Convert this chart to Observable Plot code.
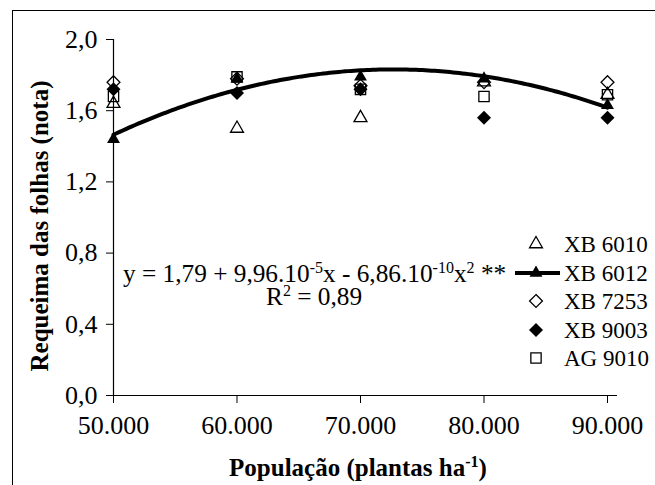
<!DOCTYPE html>
<html>
<head>
<meta charset="utf-8">
<script src="https://cdn.jsdelivr.net/npm/d3@7"></script>
<script src="https://cdn.jsdelivr.net/npm/@observablehq/plot@0.6"></script>
<style>
  html, body { margin: 0; padding: 0; background: #fff; overflow: hidden; }
  #wrap { position: relative; width: 655px; height: 485px; }
  #frame { position: absolute; left: 12px; top: 10px; width: 700px; height: 520px;
           border-left: 1.5px solid #000; border-top: 1.5px solid #000; }
  #wrap svg { position: absolute; left: 0; top: 0; }
</style>
</head>
<body>
<div id="wrap"><div id="frame"></div></div>
<script>
// ---- data ----
const populations = [50000, 60000, 70000, 80000, 90000];
const seriesNames = ["XB 6010", "XB 6012", "XB 7253", "XB 9003", "AG 9010"];
const xb6010 = [1.64, 1.50, 1.56, 1.76, 1.69];
const xb6012 = [1.44, 1.78, 1.79, 1.78, 1.63];
const xb7253 = [1.76, 1.78, 1.74, 1.76, 1.76];
const xb9003 = [1.72, 1.70, 1.72, 1.56, 1.56];
const ag9010 = [1.68, 1.79, 1.72, 1.68, 1.69];
const yTicks = [0, 0.4, 0.8, 1.2, 1.6, 2.0];
const xTicks = populations;
const equationText = {a: "1,79", b: "9,96.10", bExp: "-5", c: "6,86.10", cExp: "-10", sig: "**"};
const r2Text = "0,89";
const xTitle = "População (plantas ha";
const yTitle = "Requeima das folhas (nota)";

// ---- tidy tables ----
const valuesBySeries = [xb6010, xb6012, xb7253, xb9003, ag9010];
const table = seriesNames.map((s, i) => populations.map((x, j) => ({series: s, x, y: valuesBySeries[i][j]})));

// quadratic least-squares fit of XB 6012 (the fitted curve)
function quadFit(xs, ys) {
  const u = xs.map(x => (x - 70000) / 10000);
  const S = k => d3.sum(u, v => v ** k);
  const T = k => d3.sum(u, (v, i) => v ** k * ys[i]);
  const A = [[S(0), S(1), S(2)], [S(1), S(2), S(3)], [S(2), S(3), S(4)]];
  const B = [T(0), T(1), T(2)];
  const n = 3;
  for (let i = 0; i < n; i++) {
    for (let k = i + 1; k < n; k++) {
      const f = A[k][i] / A[i][i];
      for (let j = i; j < n; j++) A[k][j] -= f * A[i][j];
      B[k] -= f * B[i];
    }
  }
  const c = new Array(n).fill(0);
  for (let i = n - 1; i >= 0; i--) {
    let s = B[i];
    for (let j = i + 1; j < n; j++) s -= A[i][j] * c[j];
    c[i] = s / A[i][i];
  }
  return x => { const v = (x - 70000) / 10000; return c[0] + c[1] * v + c[2] * v * v; };
}
const fit = quadFit(populations, xb6012);
const curve = d3.range(populations[0], populations[populations.length - 1] + 1, 250).map(x => ({x, y: fit(x)}));

const fmtX = d => d3.format(",")(d).replace(/,/g, ".");
const fmtY = d => d.toFixed(1).replace(".", ",");

const symStyles = [
  {symbol: "triangle", r: 4.8, fill: "none", stroke: "#000"},
  {symbol: "triangle", r: 4.8, fill: "#000", stroke: "none"},
  {symbol: "diamond2", r: 5.8, fill: "none", stroke: "#000"},
  {symbol: "diamond2", r: 6.3, fill: "#000", stroke: "none"},
  {symbol: "square", r: 5.8, fill: "none", stroke: "#000"}
];

const font = "'Liberation Serif', 'Times New Roman', serif";

const plot = Plot.plot({
  width: 655,
  height: 485,
  marginLeft: 113,
  marginRight: 38,
  marginTop: 39,
  marginBottom: 90,
  style: {fontFamily: font, fontSize: "26px", color: "#000", background: "transparent", overflow: "visible"},
  x: {domain: [50000, 90810]},
  y: {domain: [0, 2]},
  marks: [
    Plot.axisX({ticks: xTicks, tickFormat: fmtX, tickSize: 8, tickPadding: 12, fontSize: 26, label: null}),
    Plot.axisY({ticks: yTicks, tickFormat: fmtY, tickSize: 7, tickPadding: 9, fontSize: 26, label: null}),
    Plot.ruleX([50000], {strokeWidth: 1.2}),
    Plot.ruleY([0], {strokeWidth: 1.2}),
    ...table.map((rows, i) => Plot.dot(rows, {x: "x", y: "y", symbol: symStyles[i].symbol, r: symStyles[i].r,
        fill: symStyles[i].fill, stroke: symStyles[i].stroke, strokeWidth: 1.3})),
    Plot.line(curve, {x: "x", y: "y", strokeWidth: 4, stroke: "#000", curve: "linear"})
  ]
});

document.getElementById("wrap").appendChild(plot);
const svg = d3.select(plot);

function sup(sel, t, fs = 16) {
  sel.append("tspan").attr("font-size", fs).attr("dy", -9).text(t);
  return sel;
}

// equation
const eq = svg.append("text").attr("x", 123).attr("y", 282).attr("text-anchor", "start")
  .attr("font-family", font).attr("font-size", 25.3).attr("fill", "#000");
eq.append("tspan").text(`y = ${equationText.a} + ${equationText.b}`);
sup(eq, equationText.bExp);
eq.append("tspan").attr("dy", 9).text(`x - ${equationText.c}`);
sup(eq, equationText.cExp);
eq.append("tspan").attr("dy", 9).text("x");
sup(eq, "2");
eq.append("tspan").attr("dy", 9).text(" " + equationText.sig);

const r2 = svg.append("text").attr("x", 266).attr("y", 305).attr("text-anchor", "start")
  .attr("font-family", font).attr("font-size", 25.3).attr("fill", "#000");
r2.append("tspan").text("R");
sup(r2, "2");
r2.append("tspan").attr("dy", 9).text(` = ${r2Text}`);

// legend
const legendRows = [244, 273, 301, 330, 358];
seriesNames.forEach((name, i) => {
  const st = symStyles[i];
  const g = svg.append("g").attr("transform", `translate(536,${legendRows[i]})`);
  if (i === 1) g.append("line").attr("x1", -21).attr("x2", 24).attr("stroke", "#000").attr("stroke-width", 4);
  const type = {triangle: d3.symbolTriangle, diamond2: d3.symbolDiamond2, square: d3.symbolSquare}[st.symbol];
  g.append("path").attr("d", d3.symbol(type, Math.PI * st.r * st.r)())
    .attr("fill", st.fill).attr("stroke", st.stroke).attr("stroke-width", 1.3);
  svg.append("text").attr("x", 564).attr("y", legendRows[i] + 8).attr("text-anchor", "start")
    .attr("font-family", font).attr("font-size", 23).attr("fill", "#000").text(name);
});

// axis titles
const xt = svg.append("text").attr("x", 358).attr("y", 476).attr("text-anchor", "middle")
  .attr("font-family", font).attr("font-size", 25).attr("font-weight", "bold").attr("fill", "#000");
xt.append("tspan").text(xTitle);
xt.append("tspan").attr("font-size", 16).attr("dy", -9).text("-1");
xt.append("tspan").attr("dy", 9).text(")");

svg.append("text").attr("transform", "translate(48,226) rotate(-90)").attr("text-anchor", "middle")
  .attr("font-family", font).attr("font-size", 25).attr("font-weight", "bold").attr("fill", "#000")
  .text(yTitle);
</script>
</body>
</html>
